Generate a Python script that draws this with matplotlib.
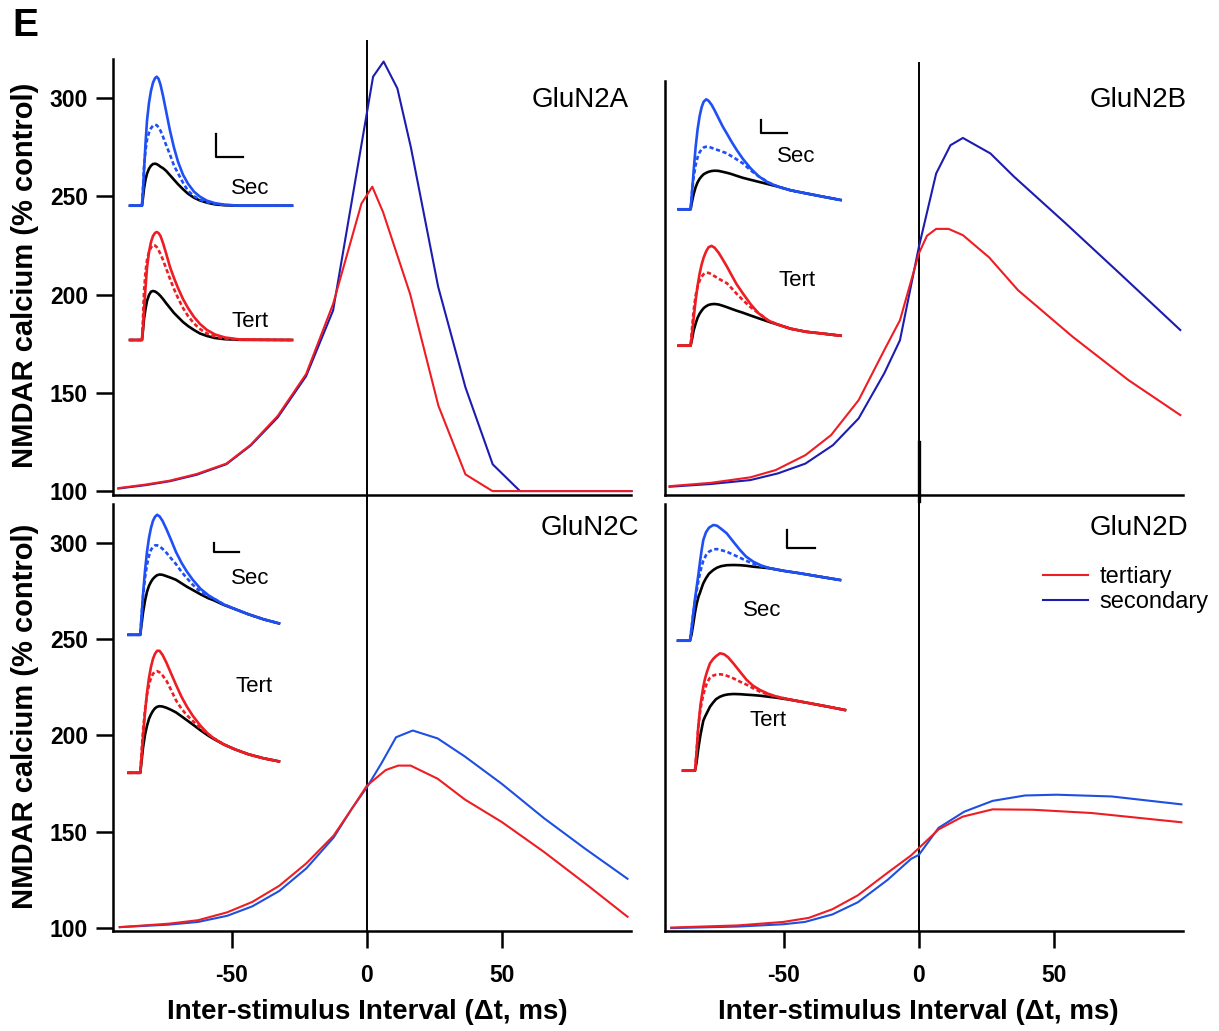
import matplotlib
matplotlib.use('Agg')
import matplotlib.pyplot as plt
from matplotlib.lines import Line2D

plt.rcParams['font.family'] = ['Liberation Sans', 'DejaVu Sans']
plt.rcParams['axes.unicode_minus'] = False

# ---- main curves: NMDAR calcium (% control) vs inter-stimulus interval (ms)
a_red_x = [-92, -82, -73, -63, -52, -43, -33, -22.5, -12.5, -2, 2, 6, 16, 26.5, 36.5, 46.5, 98]
a_red_y = [101.5, 103.3, 105.3, 108.7, 114, 123.6, 138.3, 159.6, 195.3, 246.4, 255, 242, 200.4, 143.4, 108.5, 100, 100]
a_blue_x = [-92, -82, -73, -63, -52, -43, -33, -22.5, -12.5, 2.3, 6.2, 11.3, 16.3, 26.4, 36.5, 46.6, 56.7, 98]
a_blue_y = [101.3, 103, 105, 108.3, 113.7, 123.2, 137.5, 158.5, 192, 311, 318.7, 305, 275, 204, 152.8, 113.6, 100, 100]

b_red_x = [-92.3, -77, -62.4, -53, -42, -32.5, -22.3, -12.8, -7, 0, 3, 6.4, 11, 16.3, 26, 36.7, 57, 77.6, 96.8]
b_red_y = [102.5, 104.2, 107, 110.7, 118.3, 128.5, 146.3, 171.8, 187, 221, 230, 233.5, 233.5, 230.3, 219, 202.3, 178.5, 156.5, 138.7]
b_blue_x = [-92.3, -77, -62.4, -52.2, -42, -31.8, -22.3, -12.8, -7, 0, 6.4, 11.7, 16.3, 26.5, 35.3, 54.2, 75, 96.8]
b_blue_y = [102.2, 103.6, 105.6, 109, 114, 123.4, 137, 160, 176.8, 224.3, 261.7, 276.1, 279.8, 271.9, 260, 236.5, 210, 182]

c_red_x = [-91.5, -73.3, -62.5, -51.7, -42.4, -32.4, -22.4, -12.3, -5.4, 0, 7, 11.6, 16.2, 26.2, 36.3, 50, 65.6, 81, 96.5]
c_red_y = [100.5, 102.3, 104.1, 108.2, 113.6, 122, 133.6, 148, 162.3, 173.9, 182, 184.3, 184.3, 177.5, 166.7, 155, 139.5, 123, 105.9]
c_blue_x = [-91.5, -73.3, -62.5, -51.7, -42.4, -32.4, -22.4, -12.3, -5.4, 0, 5.4, 10.8, 17, 26.2, 36.3, 50, 65.6, 81, 96.5]
c_blue_y = [100.5, 101.8, 103.2, 106.4, 111.3, 119.3, 131, 147, 162.3, 173, 185.5, 199, 202.5, 198.4, 189, 174.8, 157, 141, 125.6]

d_red_x = [-91.7, -67, -50.2, -40.8, -32, -22.6, -11.6, -2.9, 0, 7.3, 16.2, 27.3, 42.2, 64, 97.2]
d_red_y = [100.3, 101.4, 103.2, 105.3, 109.8, 117, 128.7, 137.7, 141.5, 151.2, 157.8, 161.6, 161.4, 159.7, 154.9]
d_blue_x = [-91.7, -67, -50.2, -42.2, -32, -22.6, -11.6, -2.9, 0, 7.3, 16.8, 27.3, 39.3, 51, 71.3, 97.2]
d_blue_y = [100, 100.8, 102, 103.2, 107.1, 113.4, 125, 135.9, 138, 152, 160.4, 166, 168.8, 169.2, 168.3, 164.2]

panel_names = ['GluN2A', 'GluN2B', 'GluN2C', 'GluN2D']
y_ticks = [100, 150, 200, 250, 300]
x_ticks = [-50, 0, 50]

# ---- inset traces (time, amplitude above baseline): solid, dashed, control (black)
a_t = [0, 12, 13, 14, 15.5, 17, 19, 21, 23, 25, 26.7, 28.5, 30.5, 33, 36, 40, 44, 48, 53, 58, 64, 70, 77, 85, 95, 110, 162]
a_sec_solid = [0, 0, 15, 35, 62, 85, 103, 115, 123, 127.5, 129, 127, 121, 110, 95, 75, 58, 44, 31, 22, 14, 9, 5, 2.5, 1, 0, 0]
a_sec_dash = [0, 0, 18, 38, 55, 66, 73, 77.5, 80, 81, 80.5, 78.5, 75, 69, 61, 51, 40, 32.5, 23, 15, 9.5, 6, 3.5, 2, 0.7, 0, 0]
a_sec_ctrl = [0, 0, 8, 17, 26, 32, 37, 40, 41.7, 42, 41.6, 40.5, 39, 37.5, 35, 30.5, 26, 21.5, 16.5, 12, 8, 5.2, 3, 1.3, 0.4, 0, 0]
a_ter_solid = [0, 0, 12, 30, 52, 72, 88, 98, 104, 107, 108, 107, 104, 97, 87, 73, 62, 52, 41, 32, 23, 16, 10, 5.5, 2.5, 0.5, 0]
a_ter_dash = [0, 0, 22, 48, 68, 80, 88, 92.5, 95, 94.5, 93, 90, 86, 80, 72, 61, 51, 42, 32, 24, 16.5, 11, 6.5, 3.5, 1.5, 0.3, 0]
a_ter_ctrl = [0, 0, 10, 21, 31, 39, 45, 48.3, 49, 48.5, 47.5, 46, 44, 41, 37, 32, 27, 23, 18, 14, 10, 6.5, 4, 2, 0.8, 0.2, 0]

b_t = [0, 12, 13.5, 15, 17, 19, 21, 23, 25, 27.6, 30, 33, 36, 40, 44, 48.4, 53, 58, 64.2, 72, 80, 90, 99.6, 112, 127, 145, 162]
b_sec_solid = [0, 0, 18, 38, 62, 80, 93, 102, 107.5, 110, 108.5, 104.5, 99, 91, 83, 75.5, 67.5, 59.5, 50.5, 41, 33, 26.5, 22.6, 19, 16, 12.5, 9.3]
b_sec_dash = [0, 0, 18, 32, 44, 52, 57, 60, 61.8, 62.6, 62.5, 61.5, 60.3, 59, 57.5, 56, 53, 50, 46, 39, 33, 26.8, 22.6, 19, 16, 12.5, 9.3]
b_sec_ctrl = [0, 0, 8, 15, 22, 27, 30.5, 33, 35, 36.5, 37.5, 38.3, 38.6, 38.4, 37.5, 36.5, 35.2, 33.5, 31.5, 29.5, 27.5, 25, 22.6, 19, 16, 12.5, 9.3]
b_ter_solid = [0, 0, 12, 27, 45, 60, 72, 81, 88, 94.5, 98.5, 99.8, 98, 93, 86.5, 79, 70.5, 61.5, 52.4, 41.5, 32.4, 25, 21, 17, 14, 12, 10]
b_ter_dash = [0, 0, 18, 35, 50, 59, 65, 69, 71.5, 73, 72.8, 71.5, 69.5, 67, 64.8, 62.4, 57.5, 52, 45.7, 38.5, 32.4, 25, 21, 17, 14, 12, 10]
b_ter_ctrl = [0, 0, 7, 15, 22, 28, 32, 35, 37.5, 39.5, 40.8, 41.5, 41.7, 41.2, 40, 38.5, 36.8, 35, 33, 30.2, 27.4, 24, 21, 17, 14, 12, 10]

c_t = [0, 11.8, 13, 14.5, 16.5, 18.5, 20.5, 22.5, 24.5, 26.5, 28.6, 31, 34, 38, 42.5, 47.5, 53, 58.5, 64.3, 72, 80, 85.3, 95, 106.3, 120, 135, 150.5]
c_sec_solid = [0, 0, 18, 40, 64, 83, 97, 107, 114, 118, 120, 118.5, 114, 105.5, 95, 82.8, 72, 63, 55, 46, 39.5, 36.2, 30.5, 25.8, 20.5, 15.5, 11.4]
c_sec_dash = [0, 0, 18, 38, 57, 70, 79, 85, 88, 89.4, 89.5, 88.5, 86, 82, 76.5, 70.7, 63, 56.5, 50, 43, 38.5, 36.2, 30.5, 25.8, 20.5, 15.5, 11.4]
c_sec_ctrl = [0, 0, 10, 22, 34, 43, 49, 53, 56, 58, 59.6, 60.3, 60, 58.6, 57, 55, 51.5, 48, 44.8, 40.5, 36.5, 34.5, 30, 25.8, 20.5, 15.5, 11.4]
c_ter_solid = [0, 0, 15, 36, 60, 80, 95, 106, 114, 119, 122, 122, 118, 110, 99.5, 88, 76, 66, 57, 47, 38.5, 34.5, 28.5, 23.5, 18.5, 14.5, 11.4]
c_ter_dash = [0, 0, 20, 42, 63, 78, 88, 95, 99, 101.2, 101.7, 100.5, 97.5, 92, 83, 72.5, 64, 57.5, 51.8, 44.5, 38.5, 34.5, 28.5, 23.5, 18.5, 14.5, 11.4]
c_ter_ctrl = [0, 0, 11, 25, 38, 47, 54, 58.5, 62, 64.5, 66, 66.6, 66.3, 65, 63, 60.4, 56.5, 52.5, 48.3, 42.5, 37, 33.8, 28.5, 23.5, 18.5, 14.5, 11.4]

d_sec_t = [0, 12, 13.5, 15, 17, 18.7, 20.5, 22, 23.7, 25.3, 28, 31, 35.3, 39, 43, 48.7, 55.3, 62, 68, 75.3, 83, 92, 106, 122, 142, 162]
d_sec_solid = [0, 0, 12, 25, 42, 54, 67, 79, 91, 100.7, 108.5, 113, 115.7, 115, 112, 107.4, 99, 90.7, 84.2, 79, 75.3, 72.4, 69.8, 67.4, 64, 60.7]
d_sec_dash = [0, 0, 12, 25, 40, 50, 60, 68, 74.5, 80, 85.5, 89, 91.4, 91.6, 90.6, 89, 86, 83, 80, 77, 74.5, 72.4, 69.8, 67.4, 64, 60.7]
d_sec_ctrl = [0, 0, 6, 15, 28, 37, 44, 48, 53, 57.4, 62.5, 67, 70.7, 73, 74.5, 75.5, 75.7, 75.5, 75, 74, 73.3, 72.4, 69.8, 67.4, 64, 60.7]
d_ter_t = [0, 12, 13.5, 15.3, 17.5, 20.3, 22, 24, 27, 30, 33, 37, 41, 45, 50.3, 57, 63.7, 70, 77, 85, 93.7, 110, 127, 145, 162]
d_ter_solid = [0, 0, 18, 44, 66, 84, 92, 99, 107.4, 111.5, 114.5, 117.4, 116.5, 113.5, 107.4, 99, 90.7, 85, 80.7, 77, 74, 70.5, 67.4, 64, 60.7]
d_ter_dash = [0, 0, 18, 44, 62, 76, 82, 88, 93, 95, 96, 96.4, 96, 94.5, 92.4, 89, 86, 82.5, 79, 76.3, 74, 70.5, 67.4, 64, 60.7]
d_ter_ctrl = [0, 0, 8, 22, 36, 50, 54, 58, 64, 68, 71.5, 74, 75.5, 76.3, 76.7, 76.5, 76, 75.6, 75, 74, 73, 70.5, 67.4, 64, 60.7]

RED = '#ee1d23'
NAVY = '#1c1cb0'
BLUE = '#1d4fe0'
INSET_BLUE = '#1e50f5'

W, H = 1219, 1031
fig = plt.figure(figsize=(W / 100, H / 100), dpi=100)


def px_rect(x0, y0, x1, y1):
    # pixel box (top-left origin) -> figure fraction rect
    return [x0 / W, 1 - y1 / H, (x1 - x0) / W, (y1 - y0) / H]


def style(ax, ylim, left_labels, bottom_ticks):
    ax.set_xlim(-94, 97.8)
    ax.set_ylim(*ylim)
    for s in ['top', 'right']:
        ax.spines[s].set_visible(False)
    for s in ['left', 'bottom']:
        ax.spines[s].set_linewidth(1.8)
    ax.tick_params(direction='out', length=12, width=1.8)
    ax.tick_params(axis='y', pad=6)
    ax.tick_params(axis='x', pad=12)
    if left_labels:
        ax.set_yticks(y_ticks, labels=[str(v) for v in y_ticks], fontsize=16.5, fontweight='bold')
    else:
        ax.set_yticks([])
    if bottom_ticks:
        ax.set_xticks(x_ticks, labels=[str(v) for v in x_ticks], fontsize=16.5, fontweight='bold')
    else:
        ax.set_xticks([])


axA = fig.add_axes(px_rect(113, 59, 631, 495))
axB = fig.add_axes(px_rect(665, 59, 1183, 495))
axC = fig.add_axes(px_rect(113, 504, 631, 931))
axD = fig.add_axes(px_rect(665, 504, 1183, 931))

style(axA, (98, 320), True, False)
style(axB, (98, 320), False, False)
style(axC, (98.5, 320), True, True)
style(axD, (98.5, 320), False, True)
axB.spines['left'].set_bounds(98, 309)

# zero lines
axA.plot([0, 0], [95, 329], color='k', lw=1.4, clip_on=False)
axB.plot([0, 0], [95, 318], color='k', lw=1.4, clip_on=False)
axB.plot([0, 0], [95, 125], color='k', lw=2.4, clip_on=False)
axC.plot([0, 0], [98.5, 323], color='k', lw=1.4, clip_on=False)
axD.plot([0, 0], [98.5, 323], color='k', lw=1.4, clip_on=False)

axA.plot(a_blue_x, a_blue_y, color=NAVY, lw=1.5, clip_on=False)
axA.plot(a_red_x, a_red_y, color=RED, lw=1.5, clip_on=False)
axB.plot(b_blue_x, b_blue_y, color=NAVY, lw=1.5)
axB.plot(b_red_x, b_red_y, color=RED, lw=1.5)
axC.plot(c_blue_x, c_blue_y, color=BLUE, lw=1.5)
axC.plot(c_red_x, c_red_y, color=RED, lw=1.5)
lb, = axD.plot(d_blue_x, d_blue_y, color=BLUE, lw=1.5)
lr, = axD.plot(d_red_x, d_red_y, color=RED, lw=1.5)

leg_blue = Line2D([], [], color=NAVY, lw=1.5)
axD.legend([lr, leg_blue], ['tertiary', 'secondary'], loc='upper left',
           bbox_to_anchor=(0.73, 0.855), frameon=False, fontsize=17,
           handlelength=1.9, handletextpad=0.5, labelspacing=0.15,
           borderpad=0, borderaxespad=0)

# panel names
axA.text(0.995, 0.906, panel_names[0], transform=axA.transAxes, ha='right', va='center', fontsize=20)
axB.text(1.008, 0.906, panel_names[1], transform=axB.transAxes, ha='right', va='center', fontsize=20)
axC.text(1.015, 0.944, panel_names[2], transform=axC.transAxes, ha='right', va='center', fontsize=20)
axD.text(1.010, 0.944, panel_names[3], transform=axD.transAxes, ha='right', va='center', fontsize=20)


def trace_group(x0, ybase, t, solid, dashed, ctrl, col):
    # inset axes where 1 unit = 1 pixel, baseline at 0
    ax = fig.add_axes(px_rect(x0, ybase - 160, x0 + 170, ybase + 5))
    ax.set_xlim(0, 170)
    ax.set_ylim(-5, 160)
    ax.axis('off')
    kw = dict(lw=1.9, clip_on=False, solid_joinstyle='round', dash_joinstyle='round')
    ax.plot(t, ctrl, color='k', **kw)
    ax.plot(t, dashed, color=col, ls=(0, (1.6, 1.0)), **kw)
    ax.plot(t, solid, color=col, **kw)
    return ax


def scale_bar(ax, x, y0, y1, x1):
    ax.plot([x, x, x1], [y1, y0, y0], color='k', lw=1.6, clip_on=False)


# GluN2A insets
s = trace_group(130, 205.7, a_t, a_sec_solid, a_sec_dash, a_sec_ctrl, INSET_BLUE)
scale_bar(s, 86, 49, 71.7, 112.7)
s.text(120, 17.7, 'Sec', ha='center', va='center', fontsize=16)
r = trace_group(130, 340, a_t, a_ter_solid, a_ter_dash, a_ter_ctrl, RED)
r.text(120, 19, 'Tert', ha='center', va='center', fontsize=16)

# GluN2B insets
s = trace_group(678.6, 209.3, b_t, b_sec_solid, b_sec_dash, b_sec_ctrl, INSET_BLUE)
scale_bar(s, 82.7, 76, 89.3, 108.4)
s.text(117.4, 52.3, 'Sec', ha='center', va='center', fontsize=16)
r = trace_group(678.6, 345.7, b_t, b_ter_solid, b_ter_dash, b_ter_ctrl, RED)
r.text(118.4, 64.7, 'Tert', ha='center', va='center', fontsize=16)

# GluN2C insets
s = trace_group(128.5, 634.8, c_t, c_sec_solid, c_sec_dash, c_sec_ctrl, INSET_BLUE)
scale_bar(s, 85.3, 82.8, 91.4, 110.5)
s.text(121.9, 55.8, 'Sec', ha='center', va='center', fontsize=16)
r = trace_group(128.5, 772.8, c_t, c_ter_solid, c_ter_dash, c_ter_ctrl, RED)
r.text(125.5, 86.8, 'Tert', ha='center', va='center', fontsize=16)

# GluN2D insets
s = trace_group(678, 640.7, d_sec_t, d_sec_solid, d_sec_dash, d_sec_ctrl, INSET_BLUE)
scale_bar(s, 108.7, 92.4, 110.7, 137)
s.text(84.7, 30.7, 'Sec', ha='center', va='center', fontsize=16)
r = trace_group(683, 770.7, d_ter_t, d_ter_solid, d_ter_dash, d_ter_ctrl, RED)
r.text(85, 50.7, 'Tert', ha='center', va='center', fontsize=16)

# figure labels
fig.text(12 / W, 1 - 26 / H, 'E', fontsize=28, fontweight='bold', va='center', ha='left')
for yc in [275, 716]:
    fig.text(25 / W, 1 - yc / H, 'NMDAR calcium (% control)', rotation=90,
             ha='center', va='center', fontsize=21, fontweight='bold')
for xc in [367, 918]:
    fig.text(xc / W, 1 - 1012 / H, 'Inter-stimulus Interval (\u0394t, ms)',
             ha='center', va='center', fontsize=20, fontweight='bold')

fig.savefig('out.png', dpi=100)
